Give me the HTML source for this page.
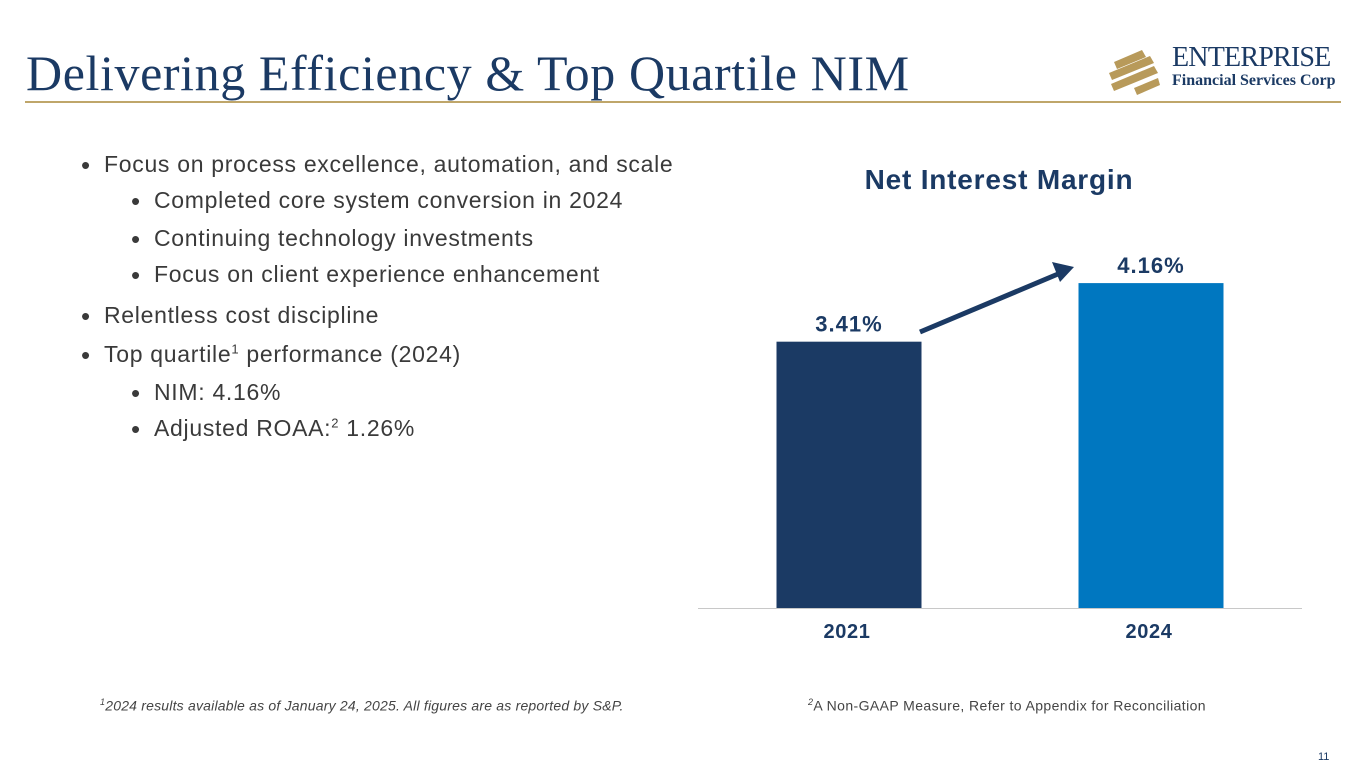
<!DOCTYPE html>
<html><head><meta charset="utf-8"><style>
body{margin:0;width:1365px;height:768px;background:#fff;position:relative;overflow:hidden;font-family:"Liberation Sans",sans-serif}
.a{position:absolute}
.t{font-family:"Liberation Serif",serif;color:#1b3a64;font-size:50px;left:26px;top:44px;white-space:nowrap;letter-spacing:0.6px}
.b{color:#3a3a3a;font-size:23px;letter-spacing:0.7px;white-space:nowrap}
.b span.d{position:absolute;left:-23px;top:-1px;font-size:26px}
sup{font-size:13px}
.f{font-size:14px;font-style:italic;color:#444;top:697px;letter-spacing:0.2px}
</style></head><body>
<div class="a t">Delivering Efficiency &amp; Top Quartile NIM</div>
<div class="a" style="left:25px;top:101px;width:1316px;height:2px;background:#bfa66a"></div>
<div class="a" style="left:1106px;top:44px">
<svg width="66" height="50" style="position:absolute;left:0;top:2px"><g fill="#b89a5a"><polygon points="8,16 36,4 40,11 11,23"/><polygon points="3,27 44,10 48,17 6,34"/><polygon points="5,38 48,20 52,27 8,45"/><polygon points="28,42 52,32 54,39 31,49"/></g></svg>
<div class="a" style="left:66px;top:-2px;font-family:'Liberation Serif',serif;color:#1b3a64;font-size:28px;white-space:nowrap;letter-spacing:-0.8px">ENTERPRISE</div>
<div class="a" style="left:66px;top:28px;font-family:'Liberation Serif',serif;color:#1b3a64;font-size:16px;font-weight:bold;white-space:nowrap">Financial Services Corp</div>
</div>
<div class="a b" style="left:104px;top:151px"><span class="d">•</span>Focus on process excellence, automation, and scale</div>
<div class="a b" style="left:154px;top:187px"><span class="d">•</span>Completed core system conversion in 2024</div>
<div class="a b" style="left:154px;top:225px"><span class="d">•</span>Continuing technology investments</div>
<div class="a b" style="left:154px;top:261px"><span class="d">•</span>Focus on client experience enhancement</div>
<div class="a b" style="left:104px;top:302px"><span class="d">•</span>Relentless cost discipline</div>
<div class="a b" style="left:104px;top:341px"><span class="d">•</span>Top quartile<sup>1</sup> performance (2024)</div>
<div class="a b" style="left:154px;top:379px"><span class="d">•</span>NIM: 4.16%</div>
<div class="a b" style="left:154px;top:415px"><span class="d">•</span>Adjusted ROAA:<sup>2</sup> 1.26%</div>
<svg class="a" style="left:0;top:0" width="1365" height="768" id="chart">
<text x="999" y="189" text-anchor="middle" font-size="28" font-weight="bold" fill="#1b3a64" letter-spacing="0.8">Net Interest Margin</text>
<line x1="698" x2="1302" y1="608.5" y2="608.5" stroke="#c8c8c8"/>
<line x1="920" y1="332" x2="1058" y2="274" stroke="#1b3a64" stroke-width="5"/>
<polygon points="1074,267 1052,262 1060,282" fill="#1b3a64"/>
</svg>
<script>
const categories=["2021","2024"];
const values=[3.41,4.16];
const labels=["3.41%","4.16%"];
const colors=["#1b3a64","#0077c0"];
const svg=document.getElementById('chart');const NS="http://www.w3.org/2000/svg";
const base=608, ppu=78.1, cx=[849,1151], bw=145;
const y=v=>base-v*ppu;
values.forEach((v,i)=>{
 const r=document.createElementNS(NS,'rect');
 r.setAttribute('x',cx[i]-bw/2);r.setAttribute('y',y(v));r.setAttribute('width',bw);r.setAttribute('height',base-y(v));r.setAttribute('fill',colors[i]);
 
 
 svg.insertBefore(r,svg.querySelector('line'));
 const t=document.createElementNS(NS,'text');
 t.setAttribute('x',cx[i]);t.setAttribute('y',y(v)-10);t.setAttribute('text-anchor','middle');t.setAttribute('font-size','22');t.setAttribute('letter-spacing','1');t.setAttribute('font-weight','bold');t.setAttribute('fill','#1b3a64');t.textContent=labels[i];
 
 
 svg.appendChild(t);
 const c=document.createElementNS(NS,'text');
 c.setAttribute('x',cx[i]-2);c.setAttribute('y',638);c.setAttribute('text-anchor','middle');c.setAttribute('font-size','20');c.setAttribute('letter-spacing','0.6');c.setAttribute('font-weight','bold');c.setAttribute('fill','#1b3a64');c.textContent=categories[i];
 
 
 svg.appendChild(c);
});
</script>
<div class="a f" style="left:100px"><sup style="font-size:9px">1</sup>2024 results available as of January 24, 2025. All figures are as reported by S&amp;P.</div>
<div class="a f" style="left:808px;font-style:normal;letter-spacing:0.4px"><sup style="font-size:9px;font-style:italic">2</sup>A Non-GAAP Measure, Refer to Appendix for Reconciliation</div>
<div class="a" style="left:1318px;top:751px;font-size:11px;color:#1b3a64">11</div>
</body></html>
